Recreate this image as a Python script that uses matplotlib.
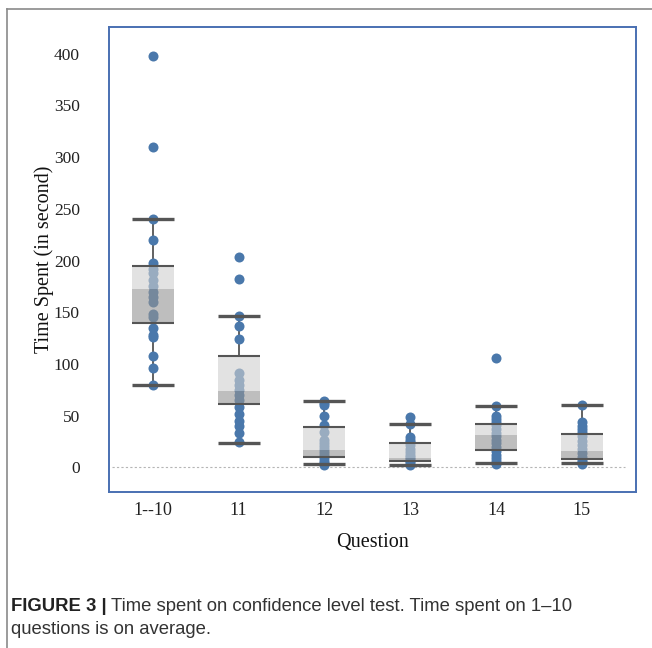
import matplotlib
matplotlib.use("Agg")
import matplotlib.pyplot as plt
from matplotlib.lines import Line2D
import numpy as np

# values
questions = ["1--10", "11", "12", "13", "14", "15"]

pts_1_10 = [398, 310, 240, 220, 198, 192, 188, 181, 175, 170, 165, 160,
            148, 145, 135, 128, 126, 108, 96, 80]
pts_11 = [203, 182, 146, 137, 124, 91, 85, 80, 75, 70, 65, 58, 52, 45, 40, 33, 25]
pts_12 = [64, 62, 60, 50, 41, 34, 27, 24, 21, 18, 15, 12, 9, 6, 4, 2]
pts_13 = [49, 42, 29, 27, 25, 22, 18, 15, 12, 10, 8, 6, 4, 2]
pts_14 = [106, 59, 50, 47, 44, 41, 37, 33, 30, 27, 24, 20, 16, 12, 9, 6, 3]
pts_15 = [60, 44, 40, 37, 34, 30, 26, 22, 18, 14, 10, 7, 5, 3]
points = [pts_1_10, pts_11, pts_12, pts_13, pts_14, pts_15]

whis_lo = [80, 24, 3, 2, 4, 4.5]
q1 = [140, 61, 10, 6, 17, 8.5]
median = [172, 74, 17, 9.5, 31, 15.5]
q3 = [195, 108, 39, 23.5, 42, 32.5]
whis_hi = [240, 146, 64, 42, 59, 60]

blue = "#4a78ab"
line_col = "#555555"

fig = plt.figure(figsize=(6.52, 6.48), dpi=100)
ax = fig.add_axes([0.1672, 0.2407, 0.8083, 0.7176])

x = np.arange(len(questions))
w = 0.49

for i, vals in enumerate(points):
    ax.scatter(np.full(len(vals), x[i]), vals, s=52, color=blue, zorder=2,
               linewidths=0)

# whiskers (under the points)
ax.vlines(x, q3, whis_hi, color=line_col, lw=1.3, zorder=1.5)
ax.vlines(x, whis_lo, q1, color=line_col, lw=1.3, zorder=1.5)

# box: lower half darker, upper half lighter, drawn over the points
ax.bar(x, np.subtract(median, q1), bottom=q1, width=w, color="#939393",
       alpha=0.6, zorder=3, linewidth=0)
ax.bar(x, np.subtract(q3, median), bottom=median, width=w, color="#cfcfcf",
       alpha=0.6, zorder=3, linewidth=0)

ax.hlines(q1, x - w / 2, x + w / 2, color=line_col, lw=1.5, zorder=4)
ax.hlines(q3, x - w / 2, x + w / 2, color=line_col, lw=1.5, zorder=4)
ax.hlines(whis_lo, x - w / 2, x + w / 2, color=line_col, lw=2.4, zorder=4)
ax.hlines(whis_hi, x - w / 2, x + w / 2, color=line_col, lw=2.4, zorder=4)

ax.axhline(0, xmin=0.005, xmax=0.98, color="#b5b5b5", lw=0.8,
           linestyle=(0, (2, 2)), zorder=1)

ax.set_xlim(-0.51, 5.63)
ax.set_ylim(-23.7, 425.6)
ax.set_yticks(range(0, 401, 50))
ax.set_xticks(x)
ax.set_xticklabels(questions)

serif = "Liberation Serif"
for lab in ax.get_xticklabels():
    lab.set_fontfamily(serif)
    lab.set_fontsize(13)
    lab.set_color("#222222")
for lab in ax.get_yticklabels():
    lab.set_fontfamily(serif)
    lab.set_fontsize(12.5)
    lab.set_color("#222222")
ax.tick_params(axis="both", length=0)
ax.tick_params(axis="y", pad=21)
ax.tick_params(axis="x", pad=7)

ax.set_ylabel("Time Spent (in second)", family=serif, fontsize=14.5,
              color="#111111", labelpad=0)
ax.set_xlabel("Question", family=serif, fontsize=14.5, color="#111111",
              labelpad=10)

for sp in ax.spines.values():
    sp.set_color("#4a70b2")
    sp.set_linewidth(1.4)

# outer figure frame (left and top edges only)
fig.add_artist(Line2D([7 / 652, 7 / 652], [0, 1 - 9 / 648], color="#8a8a8a",
                      lw=1.2, transform=fig.transFigure))
fig.add_artist(Line2D([7 / 652, 1], [1 - 9 / 648, 1 - 9 / 648], color="#8a8a8a",
                      lw=1.2, transform=fig.transFigure))

# caption
cap_font = "Liberation Sans"
y1 = 1 - 611 / 648
t1 = fig.text(11 / 652, y1, "FIGURE 3 |", family=cap_font, weight="bold",
              fontsize=13.3, color="#222222", va="baseline")
fig.canvas.draw()
bb = t1.get_window_extent()
fig.text((bb.x1 + 4) / fig.bbox.width, y1,
         "Time spent on confidence level test. Time spent on 1\u201310",
         family=cap_font, fontsize=13.3, color="#333333", va="baseline")
fig.text(11 / 652, 1 - 634 / 648, "questions is on average.", family=cap_font,
         fontsize=13.3, color="#333333", va="baseline")

fig.savefig("out.png", dpi=100)
